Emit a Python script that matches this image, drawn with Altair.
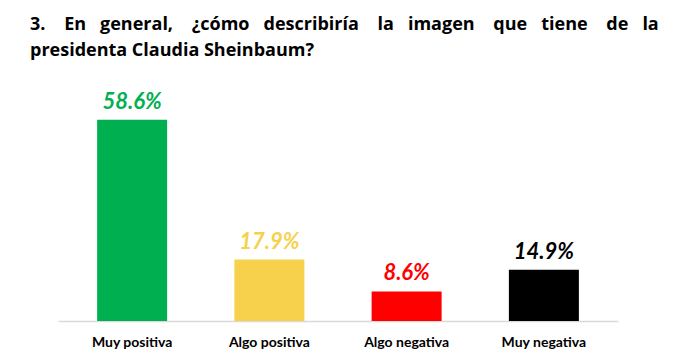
import altair as alt
import pandas as pd

categories = ["Muy positiva", "Algo positiva", "Algo negativa", "Muy negativa"]
values = [58.6, 17.9, 8.6, 14.9]
labels = ["58.6%", "17.9%", "8.6%", "14.9%"]
colors = ["#00B050", "#F7D14C", "#FF0000", "#000000"]

df = pd.DataFrame({"cat": categories, "val": values, "lab": labels, "col": colors})

NB = "\u00a0"
words1 = ["3.", "En", "general,", "¿cómo", "describiría", "la", "imagen", "que", "tiene", "de", "la"]
line1 = words1[0]
for i, w in enumerate(words1[1:]):
    line1 += NB * (4 if i % 2 == 0 else 3) + w
line2 = "presidenta Claudia Sheinbaum?"

x = alt.X("cat:N", sort=categories, title=None,
          scale=alt.Scale(paddingInner=0.49, paddingOuter=0.285),
          axis=alt.Axis(labelAngle=0, labelFont="Lato", labelFontWeight="bold",
                        labelFontSize=14, labelColor="#000000", labelPadding=14,
                        ticks=False, domainColor="#D9D9D9", domainWidth=1.5))
y = alt.Y("val:Q", scale=alt.Scale(domain=[0, 60]), axis=None)

bars = alt.Chart(df).mark_bar().encode(
    x=x, y=y, color=alt.Color("col:N", scale=None))
text = alt.Chart(df).mark_text(baseline="alphabetic", dy=-11, font="Lato",
                               fontWeight="bold", fontStyle="italic", fontSize=22).encode(
    x=x, y=y, text="lab:N", color=alt.Color("col:N", scale=None))

chart = alt.layer(bars, text).properties(
    width=560, height=206,
    autosize=alt.AutoSizeParams(type="none"),
    padding={"left": 50, "top": 107, "right": 70, "bottom": 40},
    title=alt.TitleParams(text=[line1, line2], anchor="start", font="Open Sans",
                          fontSize=18, fontWeight="bold", color="#000000",
                          lineHeight=26, dx=-28, offset=13, baseline="bottom"),
).configure_view(stroke=None)

chart.save("out.html", embed_options={"renderer": "svg", "actions": False})
